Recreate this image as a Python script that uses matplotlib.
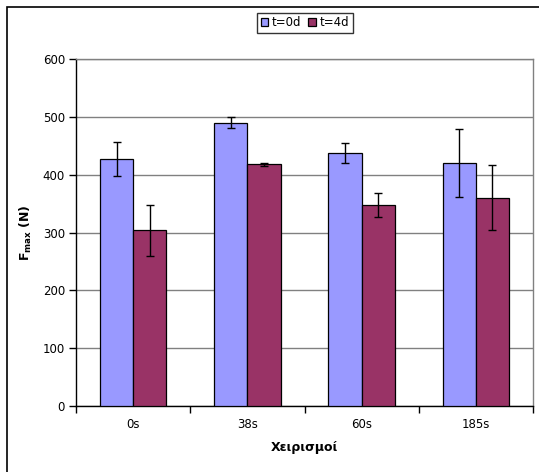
import matplotlib
matplotlib.use("Agg")
import matplotlib.pyplot as plt
import numpy as np
from matplotlib.patches import Rectangle

plt.rcParams['font.family'] = ['DejaVu Sans']
plt.rcParams['mathtext.fontset'] = 'dejavusans'

categories = ['0s', '38s', '60s', '185s']
series_names = ['t=0d', 't=4d']
t0_values = [427, 490, 437, 420]
t0_errors = [30, 10, 17, 59]
t4_values = [304, 418, 348, 360]
t4_errors = [44, 3, 21, 56]
colors = ['#9999FF', '#993366']

fig = plt.figure(figsize=(5.39, 4.72), dpi=100)
ax = fig.add_axes([76/539, 66/472, 457/539, 347/472])

x = np.arange(len(categories))
w = 0.29
err_kw = dict(ecolor='black', elinewidth=1.0, capsize=2.7, capthick=1.0)
b0 = ax.bar(x - w/2, t0_values, w, yerr=t0_errors, color=colors[0],
            edgecolor='black', linewidth=0.9, label=series_names[0],
            error_kw=err_kw, zorder=3)
b1 = ax.bar(x + w/2, t4_values, w, yerr=t4_errors, color=colors[1],
            edgecolor='black', linewidth=0.9, label=series_names[1],
            error_kw=err_kw, zorder=3)

ax.set_xlim(-0.5, len(categories) - 0.5)
ax.set_ylim(0, 600)
ax.set_yticks(np.arange(0, 601, 100))
ax.yaxis.grid(True, color='#808080', linewidth=1.0, zorder=0)
ax.set_axisbelow(True)

ax.set_xticks(x)
ax.set_xticklabels(categories, fontsize=8.5)
ax.set_xticks(np.arange(-0.5, len(categories), 1.0), minor=True)
ax.tick_params(axis='x', which='major', length=0, pad=9)
ax.tick_params(axis='x', which='minor', length=5, width=1, direction='out')
ax.tick_params(axis='y', length=5, width=1, direction='out', labelsize=8.5, pad=3)

for side in ['top', 'right']:
    ax.spines[side].set_color('#808080')
    ax.spines[side].set_linewidth(1.0)
for side in ['left', 'bottom']:
    ax.spines[side].set_color('black')
    ax.spines[side].set_linewidth(1.0)

ax.set_xlabel('Χειρισμοί', fontsize=9, fontweight='bold', labelpad=7)
ax.set_ylabel(r'$\mathbf{F}_{\mathbf{max}}$ $\mathbf{(N)}$', fontsize=9, labelpad=6)

leg = fig.legend(handles=[b0, b1], labels=series_names, loc='center',
                 bbox_to_anchor=(305/539, 1 - 23/472), ncol=2, fontsize=8.5,
                 frameon=True, fancybox=False, edgecolor='black',
                 handlelength=0.65, handleheight=0.65, handletextpad=0.3,
                 columnspacing=0.6, borderpad=0.3, borderaxespad=0)
leg.get_frame().set_linewidth(1.0)

# outer chart frame
fig.patches.append(Rectangle((7/539, -0.05), 1.2, 1 - 7/472 + 0.05,
                             transform=fig.transFigure, fill=False,
                             edgecolor='black', linewidth=1.2))

fig.savefig('out.png', dpi=100)
